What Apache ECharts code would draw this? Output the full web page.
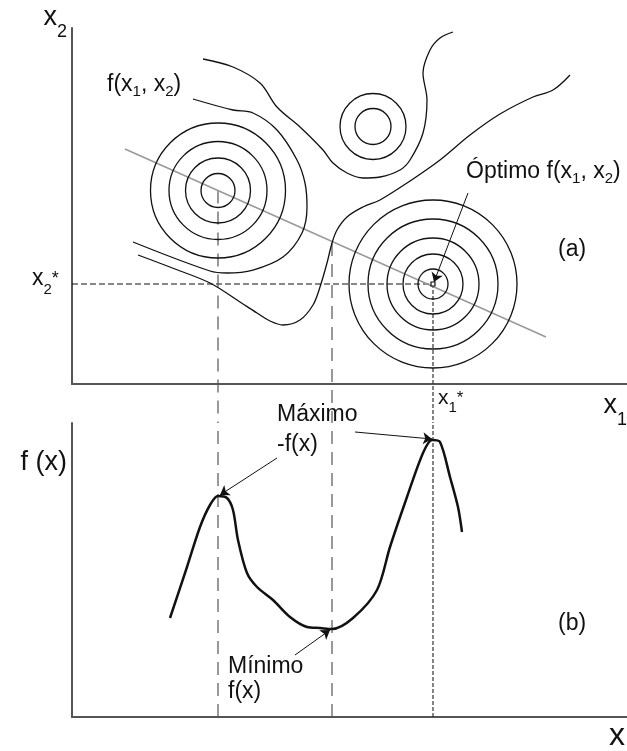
<!DOCTYPE html>
<html>
<head>
<meta charset="utf-8">
<script src="https://cdn.jsdelivr.net/npm/echarts@6/dist/echarts.min.js"></script>
<style>
  html, body { margin: 0; padding: 0; background: #fff; }
  #chart { width: 627px; height: 751px; }
</style>
</head>
<body>
<div id="chart"></div>
<script>
// Units: both panels share one horizontal scale; 1 unit on every axis = same length.

// ---- Panel (a): level curves of f(x1, x2) ----
const leftPeak = [14.6, 19.35];
const leftPeakRadii = [1.7, 3.25, 4.9, 6.75];
const smallPeak = [30.1, 25.75];
const smallPeakRadii = [1.8, 3.3];
const optimum = [36.1, 10.0];
const optimumRadii = [1.5, 3.0, 4.6, 6.5, 8.4];

const contourUpper = [
  [13.1, 32.5], [16.1, 31.7], [18.8, 30.1], [20.5, 27.7], [22.8, 25.7],
  [25.1, 23.4], [26.1, 22.1], [27.5, 21.1], [29.1, 20.6], [30.8, 20.7],
  [32.8, 21.4], [33.8, 22.4], [35.1, 25.1], [35.5, 28.4], [35.1, 31.1],
  [35.8, 33.4], [36.8, 34.6], [38.1, 35.2]
];
const contourAroundLeft = [
  [12.1, 28.5], [16.1, 27.4], [18.1, 27.1], [20.5, 25.4], [22.5, 22.4],
  [23.3, 20.1], [23.5, 17.7], [23.0, 15.1], [21.1, 12.7], [18.1, 11.4],
  [15.5, 11.1], [13.8, 11.3], [6.1, 14.2]
];
const contourLower = [
  [6.6, 12.9], [10.3, 11.5], [13.8, 10.1], [16.5, 8.4], [18.5, 7.1],
  [19.8, 6.3], [21.1, 5.9], [22.8, 6.4], [24.1, 7.9], [24.8, 9.7],
  [25.5, 12.1], [26.0, 14.1], [26.5, 15.4], [27.5, 16.7], [29.1, 17.7],
  [30.8, 18.4], [33.8, 20.3], [36.8, 22.4], [39.8, 24.9], [42.8, 27.0],
  [46.1, 28.7], [48.1, 29.4], [49.8, 30.9]
];
const searchLine = [[5.3, 23.5], [47.4, 4.7]];

// ---- Panel (b): f(x) along the search line ----
const profile = [
  [9.8, 9.9], [11.5, 15.0], [12.8, 19.0], [13.8, 21.2], [14.6, 22.1],
  [15.5, 21.9], [16.1, 20.7], [16.6, 17.7], [17.5, 14.4], [18.5, 13.0],
  [20.1, 11.7], [21.8, 10.0], [23.5, 9.0], [24.8, 8.9], [26.0, 8.8],
  [28.1, 9.9], [30.5, 12.7], [31.8, 17.0], [33.5, 22.0], [35.1, 26.4],
  [36.0, 27.7], [36.8, 27.5], [37.8, 24.0], [38.6, 21.0], [39.0, 18.5]
];
const localMax = [14.6, 22.1];
const localMin = [26.0, 8.8];
const globalMax = [36.0, 27.7];
const minCrossing = 14.1;      // where the lower level curve meets x = localMin[0]

// axis extents
const xMax = 55.5, yMaxA = 35.6, yMaxB = 29.4, gapBelowA = -3.9;

const FONT = '"Liberation Sans", Arial, sans-serif';
const INK = '#111';
const AXIS = '#555';

function rich(main, sub, lh) {
  return {
    m: { fontSize: main, lineHeight: lh, fontFamily: FONT, color: INK },
    s: { fontSize: sub, lineHeight: sub, verticalAlign: 'bottom', fontFamily: FONT, color: INK },
    a: { fontSize: Math.round(main * 0.8), lineHeight: lh, fontFamily: FONT, color: INK }
  };
}

const ringData = [];
leftPeakRadii.forEach(r => ringData.push([leftPeak[0], leftPeak[1], r]));
smallPeakRadii.forEach(r => ringData.push([smallPeak[0], smallPeak[1], r]));
optimumRadii.forEach(r => ringData.push([optimum[0], optimum[1], r]));

function lineSeries(data, opts) {
  return Object.assign({
    type: 'line', data: data, symbol: 'none', silent: true,
    xAxisIndex: 0, yAxisIndex: 0,
    lineStyle: { color: INK, width: 1.3 }
  }, opts);
}

const annoA = [
  { value: [3.5, 29.9], text: '{m|f(x}{s|1}{m|, x}{s|2}{m|)}', rich: rich(23, 15, 29) },
  { value: [39.4, 21.2], text: '{m|Óptimo f(x}{s|1}{m|, x}{s|2}{m|)}', rich: rich(23, 15, 29) },
  { value: [48.6, 13.4], text: '{m|(a)}', rich: rich(23, 15, 29) },
  { value: [-4.0, 10.5], text: '{m|x}{s|2}{a|*}', rich: rich(23, 15, 36) },
  { value: [36.6, -1.4], text: '{m|x}{s|1}{a|*}', rich: rich(21, 15, 34) }
];
const annoB = [
  { value: [20.5, 30.2], text: '{m|Máximo}', rich: rich(23, 15, 29) },
  { value: [20.5, 27.2], text: '{m|-f(x)}', rich: rich(23, 15, 29) },
  { value: [15.6, 5.0], text: '{m|Mínimo}', rich: rich(23, 15, 29) },
  { value: [15.6, 2.5], text: '{m|f(x)}', rich: rich(23, 15, 29) },
  { value: [48.6, 9.3], text: '{m|(b)}', rich: rich(23, 15, 29) }
];

function labelItems(list) {
  return list.map(d => ({
    value: d.value,
    label: { show: true, position: 'right', distance: 0, color: INK, opacity: 1, formatter: d.text, rich: d.rich }
  }));
}

function arrow(from, to) {
  return [{ coord: from }, { coord: to }];
}
const markLineBase = {
  silent: true, symbol: ['none', 'arrow'], symbolSize: 9, precision: 4,
  label: { show: false },
  lineStyle: { type: 'solid', color: INK, width: 1, opacity: 1 },
  emphasis: { disabled: true }
};

const axisNameRich = {
  m: { fontSize: 27, lineHeight: 46, fontFamily: FONT, color: INK },
  s: { fontSize: 18, lineHeight: 18, verticalAlign: 'bottom', fontFamily: FONT, color: INK },
  b: { fontSize: 32, lineHeight: 40, fontFamily: FONT, color: INK }
};
const baseAxis = {
  type: 'value',
  axisLine: { show: true, onZero: false, lineStyle: { color: AXIS, width: 2 } },
  axisTick: { show: false }, axisLabel: { show: false }, splitLine: { show: false }
};

const chart = echarts.init(document.getElementById('chart'), null, { renderer: 'canvas' });
chart.setOption({
  animation: false,
  backgroundColor: '#fff',
  grid: [
    { left: 72, top: 28, width: 555, height: 356, outerBoundsMode: 'none' },
    { left: 72, top: 423, width: 555, height: 294, outerBoundsMode: 'none' }
  ],
  xAxis: [
    Object.assign({}, baseAxis, {
      gridIndex: 0, min: 0, max: xMax,
      name: '{m|x}{s|1}', nameLocation: 'end', nameGap: 0,
      nameTextStyle: { align: 'right', verticalAlign: 'middle', padding: [44, 0, 0, 0], rich: axisNameRich }
    }),
    Object.assign({}, baseAxis, {
      gridIndex: 1, min: 0, max: xMax,
      name: '{b|x}', nameLocation: 'end', nameGap: 0,
      nameTextStyle: { align: 'right', verticalAlign: 'middle', padding: [38, 2, 0, 0], rich: axisNameRich }
    })
  ],
  yAxis: [
    Object.assign({}, baseAxis, {
      gridIndex: 0, min: 0, max: yMaxA,
      name: '{m|x}{s|2}', nameLocation: 'end', nameGap: 10,
      nameTextStyle: { align: 'right', verticalAlign: 'middle', padding: [0, 5, 0, 0], rich: axisNameRich }
    }),
    Object.assign({}, baseAxis, {
      gridIndex: 1, min: 0, max: yMaxB,
      name: '{m|f (x)}', nameLocation: 'end', nameGap: -39.5,
      nameTextStyle: { align: 'right', verticalAlign: 'middle', padding: [0, 5, 0, 0], rich: axisNameRich }
    })
  ],
  series: [
    // guide lines from the peaks/minimum down to the x axis of panel (b)
    lineSeries([[0, optimum[1]], optimum], { lineStyle: { color: INK, width: 1.2, type: [6, 3] }, z: 1 }),
    lineSeries([leftPeak, [leftPeak[0], gapBelowA]], { clip: false, lineStyle: { color: '#555', width: 1.2, type: [13, 8] }, z: 1 }),
    lineSeries([[localMin[0], minCrossing], [localMin[0], gapBelowA]], { clip: false, lineStyle: { color: '#555', width: 1.2, type: [13, 8] }, z: 1 }),
    lineSeries([optimum, [optimum[0], gapBelowA]], { clip: false, lineStyle: { color: '#333', width: 1.2, type: [4, 2] }, z: 1 }),
    lineSeries([[localMax[0], 0], [localMax[0], yMaxB]], { xAxisIndex: 1, yAxisIndex: 1, lineStyle: { color: '#555', width: 1.2, type: [13, 8] }, z: 1 }),
    lineSeries([[localMin[0], 0], [localMin[0], yMaxB]], { xAxisIndex: 1, yAxisIndex: 1, lineStyle: { color: '#555', width: 1.2, type: [13, 8] }, z: 1 }),
    lineSeries([[optimum[0], 0], [optimum[0], yMaxB]], { xAxisIndex: 1, yAxisIndex: 1, lineStyle: { color: '#333', width: 1.2, type: [4, 2] }, z: 1 }),

    // search direction through both peaks
    lineSeries(searchLine, { lineStyle: { color: '#999', width: 1.5 }, z: 2 }),

    // closed level curves
    {
      type: 'custom', xAxisIndex: 0, yAxisIndex: 0, silent: true, z: 3,
      data: ringData,
      renderItem: function (params, api) {
        const c = api.coord([api.value(0), api.value(1)]);
        const s = api.size([api.value(2), api.value(2)]);
        return {
          type: 'circle',
          shape: { cx: c[0], cy: c[1], r: s[0] },
          style: { fill: 'none', stroke: INK, lineWidth: 1.3 }
        };
      }
    },
    // open level curves
    lineSeries(contourUpper, { smooth: 0.35, z: 3 }),
    lineSeries(contourAroundLeft, { smooth: 0.35, z: 3 }),
    lineSeries(contourLower, { smooth: 0.35, z: 3 }),

    // optimum marker + labels of panel (a)
    {
      type: 'scatter', xAxisIndex: 0, yAxisIndex: 0, silent: true, z: 5,
      data: [optimum], symbol: 'rect', symbolSize: 4,
      itemStyle: { color: '#fff', borderColor: INK, borderWidth: 1.2, opacity: 1 }
    },
    {
      type: 'scatter', xAxisIndex: 0, yAxisIndex: 0, silent: true, clip: false, z: 6,
      symbolSize: 0, itemStyle: { opacity: 1 }, data: labelItems(annoA),
      markLine: Object.assign({}, markLineBase, { data: [arrow([39.6, 19.1], [36.2, 10.2])] })
    },

    // profile f(x)
    lineSeries(profile, { xAxisIndex: 1, yAxisIndex: 1, smooth: 0.3, lineStyle: { color: INK, width: 2.5 }, z: 4 }),
    {
      type: 'scatter', xAxisIndex: 1, yAxisIndex: 1, silent: true, clip: false, z: 6,
      symbolSize: 0, itemStyle: { opacity: 1 }, data: labelItems(annoB),
      markLine: Object.assign({}, markLineBase, {
        data: [
          arrow([20.5, 25.9], [localMax[0] + 0.2, localMax[1] + 0.1]),
          arrow([28.3, 28.5], [globalMax[0], globalMax[1] + 0.1]),
          arrow([22.3, 6.2], [localMin[0] - 0.2, localMin[1] - 0.1])
        ]
      })
    }
  ]
});
</script>
</body>
</html>
